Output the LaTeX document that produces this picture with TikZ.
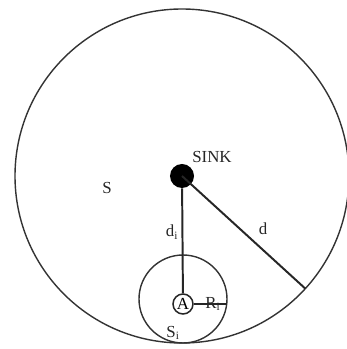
\documentclass[tikz,border=0pt]{standalone}
\usepackage{fontspec}
\setmainfont{Liberation Serif}
\usetikzlibrary{calc}

\begin{document}
\begin{tikzpicture}[x=0.025cm, y=0.025cm,
    rim/.style={line width=1pt, draw=black!80},
    link/.style={line width=1.4pt, draw=black!85},
    lbl/.style={font=\large, text=black!85, inner sep=1pt}]

  \useasboundingbox (0,0) rectangle (347,349);

  % Outer region S around the sink
  \coordinate (centre) at (182,173);
  \draw[rim] (centre) circle (167);

  % Sink node
  \node[circle, fill=black, minimum size=0.6cm, inner sep=0pt] (sink) at (centre) {};
  \node[lbl] (sinklbl) at (212,192) {SINK};
  \node[lbl] (slbl) at (107,161) {S};

  % Sub-region S_i with node A
  \coordinate (subc) at (183,50);
  \draw[rim] (subc) circle (44);
  \node[circle, draw=black!85, line width=1.1pt, minimum size=0.5cm, inner sep=0pt, font=\large] (a) at (183,45) {A};

  % Distances
  \coordinate (rimpt) at ($(centre)+(-42.4:167)$);
  \coordinate (subrim) at (227,45);
  \draw[link] (sink) -- (a);
  \draw[link] (sink.center) -- (rimpt);
  \draw[link] (a) -- (subrim);

  \node[lbl] (dilbl) at (172,117) {d\textsubscript{i}};
  \node[lbl] (dlbl) at (263,120) {d};
  \node[lbl] (rilbl) at (213,45) {R\textsubscript{i}};
  \node[lbl] (silbl) at (173,16) {S\textsubscript{i}};

\end{tikzpicture}
\end{document}
